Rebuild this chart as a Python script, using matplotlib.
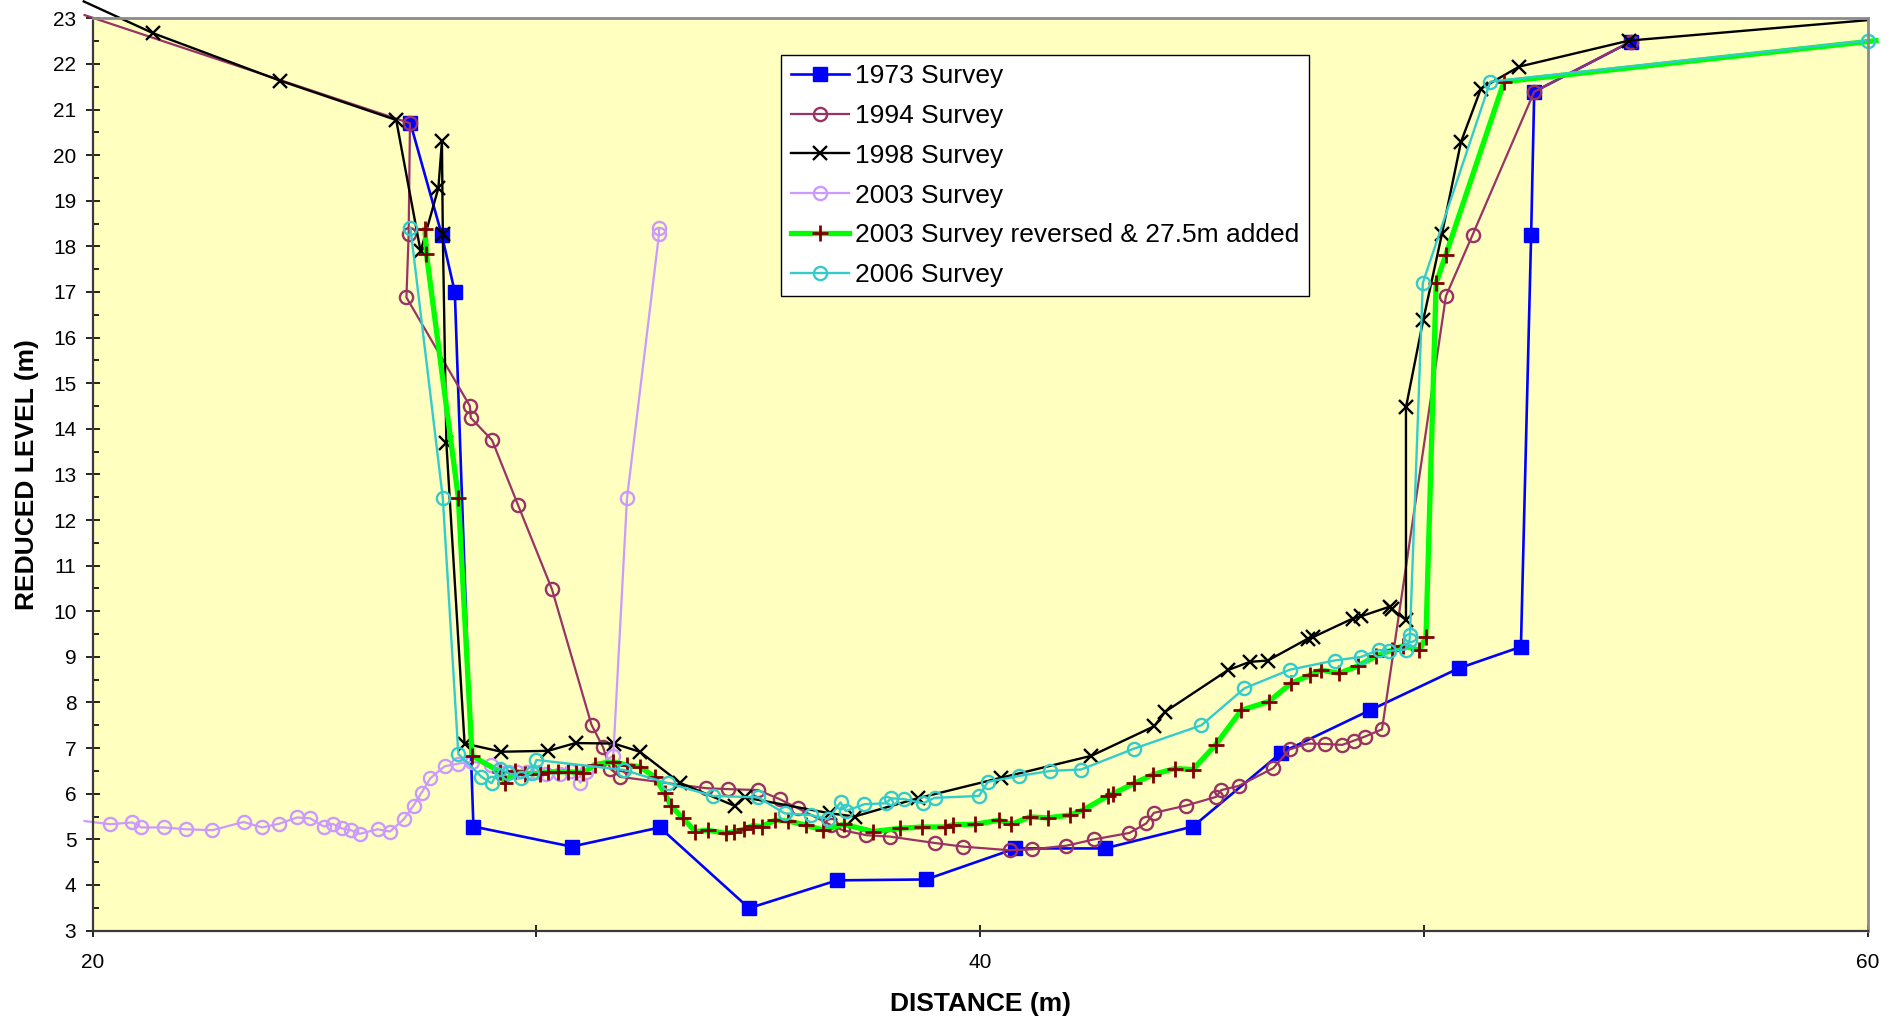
import matplotlib
matplotlib.use('Agg')
import matplotlib.pyplot as plt
from matplotlib.lines import Line2D

plt.rcParams['font.family'] = ['Liberation Sans', 'DejaVu Sans']

# ---- data ----
x_1973 = [27.16, 27.87, 28.16, 28.58, 30.79, 32.78, 34.79, 36.77, 38.78, 40.79,
          42.80, 44.79, 46.78, 48.78, 50.78, 52.18, 52.41, 52.48, 54.66]
y_1973 = [20.70, 18.24, 17.00, 5.28, 4.84, 5.26, 3.49, 4.10, 4.12, 4.80,
          4.80, 5.28, 6.90, 7.83, 8.75, 9.22, 18.25, 21.39, 22.49]

x_1994 = [19.82, 27.15, 27.12, 27.07, 28.50, 28.52, 29.00, 29.58, 30.35, 31.24,
          31.50, 31.66, 31.88, 33.83, 34.32, 34.99, 35.48, 35.89, 36.64, 36.90,
          37.43, 37.96, 38.97, 39.61, 40.66, 41.17, 41.94, 42.57, 43.36, 43.74,
          43.91, 44.64, 45.31, 45.43, 45.82, 46.60, 46.97, 47.38, 47.77, 48.15,
          48.41, 48.66, 49.05, 50.49, 51.09, 52.48, 54.66]
y_1994 = [23.07, 20.70, 18.26, 16.88, 14.50, 14.24, 13.75, 12.34, 10.48, 7.51,
          7.02, 6.55, 6.37, 6.12, 6.10, 6.08, 5.88, 5.68, 5.31, 5.20,
          5.09, 5.06, 4.92, 4.84, 4.76, 4.78, 4.86, 5.00, 5.14, 5.35,
          5.58, 5.74, 5.93, 6.08, 6.17, 6.56, 6.97, 7.10, 7.09, 7.07,
          7.16, 7.25, 7.41, 16.91, 18.25, 21.39, 22.49]

x_1998 = [19.80, 21.37, 24.23, 26.84, 27.39, 27.79, 27.87, 27.89, 27.97, 28.38,
          29.21, 30.26, 30.88, 31.74, 32.33, 33.23, 34.47, 34.69, 36.61, 37.17,
          38.59, 40.47, 42.50, 43.92, 44.17, 45.58, 46.07, 46.48, 47.38, 47.49,
          48.39, 48.58, 49.22, 49.28, 49.59, 49.59, 49.98, 50.40, 50.83, 51.28,
          52.14, 54.61, 60.00]
y_1998 = [23.37, 22.67, 21.63, 20.77, 17.89, 19.28, 20.30, 18.26, 13.69, 7.10,
          6.92, 6.94, 7.11, 7.10, 6.92, 6.24, 5.73, 5.92, 5.57, 5.50,
          5.90, 6.35, 6.83, 7.48, 7.80, 8.71, 8.89, 8.92, 9.40, 9.43,
          9.84, 9.89, 10.10, 10.04, 9.81, 14.47, 16.39, 18.27, 20.29, 21.46,
          21.94, 22.51, 22.96]

x_2003 = [19.82, 20.40, 20.89, 21.10, 21.61, 22.10, 22.70, 23.40, 23.82, 24.20,
          24.61, 24.90, 25.21, 25.41, 25.61, 25.82, 26.02, 26.42, 26.70, 27.01,
          27.23, 27.41, 27.61, 27.93, 28.24, 28.55, 28.97, 29.23, 29.38, 29.57,
          29.79, 30.02, 30.21, 30.54, 30.77, 30.99, 31.11, 31.73, 32.04, 32.76,
          32.76]
y_2003 = [5.40, 5.33, 5.37, 5.26, 5.26, 5.22, 5.20, 5.38, 5.26, 5.34,
          5.48, 5.46, 5.28, 5.34, 5.24, 5.20, 5.12, 5.22, 5.17, 5.44,
          5.74, 6.02, 6.34, 6.60, 6.66, 6.70, 6.64, 6.45, 6.47, 6.48,
          6.48, 6.48, 6.44, 6.44, 6.50, 6.24, 6.48, 6.83, 12.48, 18.26,
          18.40]

x_2003r = [27.49, 27.52, 28.24, 28.55, 29.17, 29.29, 29.51, 29.74, 30.07, 30.26,
           30.49, 30.71, 30.90, 31.05, 31.31, 31.73, 32.03, 32.33, 32.66, 32.89,
           33.04, 33.30, 33.58, 33.86, 34.26, 34.46, 34.67, 34.87, 35.07, 35.38,
           35.67, 36.08, 36.46, 36.92, 37.58, 38.18, 38.69, 39.20, 39.38, 39.89,
           40.42, 40.70, 41.11, 41.52, 42.01, 42.31, 42.87, 42.99, 43.47, 43.89,
           44.38, 44.79, 45.30, 45.88, 46.50, 47.00, 47.42, 47.68, 48.09, 48.50,
           48.92, 49.28, 49.52, 49.89, 50.04, 50.27, 50.49, 51.80, 60.18]
y_2003r = [18.37, 17.84, 12.48, 6.83, 6.48, 6.24, 6.50, 6.44, 6.44, 6.48,
           6.48, 6.48, 6.47, 6.45, 6.64, 6.70, 6.63, 6.59, 6.37, 6.01,
           5.72, 5.46, 5.17, 5.20, 5.13, 5.17, 5.22, 5.30, 5.28, 5.42,
           5.40, 5.31, 5.20, 5.33, 5.17, 5.24, 5.27, 5.27, 5.32, 5.33,
           5.42, 5.33, 5.49, 5.47, 5.53, 5.64, 5.95, 6.00, 6.23, 6.42,
           6.55, 6.53, 7.07, 7.83, 8.02, 8.42, 8.60, 8.71, 8.64, 8.80,
           9.02, 9.15, 9.24, 9.15, 9.43, 17.20, 17.82, 21.61, 22.51]

x_2006 = [27.16, 27.89, 28.24, 28.76, 28.99, 29.17, 29.36, 29.66, 29.89, 30.00,
          31.97, 32.96, 33.98, 34.99, 35.59, 36.19, 36.57, 36.85, 36.97, 37.39,
          37.88, 37.99, 38.29, 38.71, 38.97, 39.97, 40.17, 40.88, 41.58, 42.27,
          43.47, 44.98, 45.95, 46.98, 47.98, 48.58, 48.98, 49.20, 49.58, 49.67,
          49.68, 49.97, 51.49, 59.99]
y_2006 = [18.40, 12.48, 6.87, 6.37, 6.23, 6.55, 6.45, 6.34, 6.45, 6.74,
          6.52, 6.23, 5.95, 5.92, 5.57, 5.53, 5.44, 5.81, 5.62, 5.77,
          5.79, 5.90, 5.88, 5.79, 5.91, 5.95, 6.26, 6.39, 6.50, 6.53,
          6.99, 7.50, 8.31, 8.72, 8.92, 9.00, 9.15, 9.13, 9.16, 9.37,
          9.48, 17.20, 21.61, 22.51]

labels = ['1973 Survey', '1994 Survey', '1998 Survey', '2003 Survey',
          '2003 Survey reversed & 27.5m added', '2006 Survey']
xtick_vals = [20, 30, 40, 50, 60]
xtick_labels = ['20', '', '40', '', '60']
ytick_vals = list(range(3, 24))

# ---- styles ----
s_1973 = dict(color='#0000FF', lw=1.9, marker='s', ms=10.5, mfc='#0000FF', mec='#0000FF')
s_1994 = dict(color='#993366', lw=1.6, marker='o', ms=9.5, mfc='none', mec='#993366', mew=1.7)
s_1998 = dict(color='black', lw=1.7, marker='x', ms=10, mec='black', mew=1.7)
s_2003 = dict(color='#CC99FF', lw=1.6, marker='o', ms=9.5, mfc='none', mec='#CC99FF', mew=1.7)
s_2003r = dict(color='#00FF00', lw=3.8, marker='+', ms=12, mec='#800000', mew=2.0)
s_2006 = dict(color='#33CCCC', lw=1.7, marker='o', ms=9.5, mfc='none', mec='#33CCCC', mew=1.7)

fig = plt.figure(figsize=(18.98, 10.22), dpi=100)
ax = fig.add_axes([0.0488, 0.0895, 0.9354, 0.8926])
ax.set_facecolor('#FFFFC0')

ax.plot(x_1973, y_1973, clip_on=False, **s_1973)
ax.plot(x_1994, y_1994, clip_on=False, markevery=list(range(1, len(x_1994))), **s_1994)
ax.plot(x_1998, y_1998, clip_on=False, markevery=list(range(1, len(x_1998) - 1)), **s_1998)
ax.plot(x_2003, y_2003, clip_on=False, markevery=list(range(1, len(x_2003))), **s_2003)
ax.plot(x_2003r, y_2003r, clip_on=False, markevery=list(range(0, len(x_2003r) - 1)), **s_2003r)
ax.plot(x_2006, y_2006, clip_on=False, **s_2006)

ax.set_xlim(20, 60)
ax.set_ylim(3, 23)
ax.set_xticks(xtick_vals)
ax.set_xticklabels(xtick_labels)
ax.set_yticks(ytick_vals)
ax.set_yticks([v + 0.5 for v in ytick_vals[:-1]], minor=True)
ax.tick_params(axis='x', direction='inout', length=9, width=1.2, pad=12, labelsize=15)
ax.tick_params(axis='y', which='major', direction='inout', length=9.5, width=1.2, pad=7, labelsize=15)
ax.tick_params(axis='y', which='minor', direction='in', length=4, width=1.2)

for side in ['left', 'bottom']:
    ax.spines[side].set_color('#3a3a3a')
    ax.spines[side].set_linewidth(1.6)
for side in ['top', 'right']:
    ax.spines[side].set_color('#8c8c8c')
    ax.spines[side].set_linewidth(2)

ax.set_xlabel('DISTANCE (m)', fontsize=19, fontweight='bold', labelpad=14)
ax.set_ylabel('REDUCED LEVEL (m)', fontsize=19, fontweight='bold', labelpad=10)

handles = [Line2D([], [], **s) for s in [s_1973, s_1994, s_1998, s_2003, s_2003r, s_2006]]
leg = ax.legend(handles, labels, loc='upper left', bbox_to_anchor=(0.388, 0.96),
                fontsize=19, frameon=True, fancybox=False, framealpha=1,
                edgecolor='black', borderpad=0.35, labelspacing=0.6,
                handlelength=2.2, handletextpad=0.25, borderaxespad=0, numpoints=1)
leg.get_frame().set_linewidth(1.0)

fig.savefig('out.png', dpi=100)
